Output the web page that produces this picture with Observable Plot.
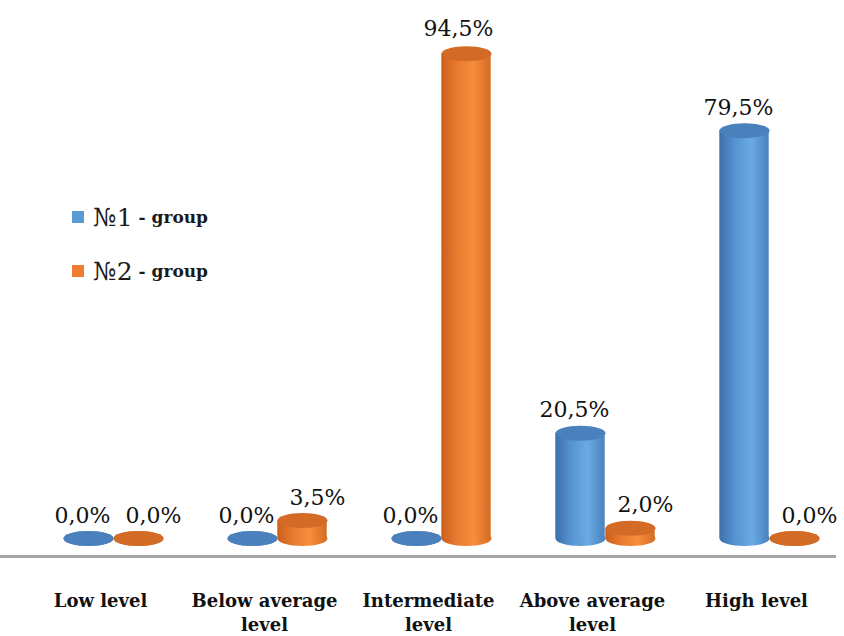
<!DOCTYPE html>
<html>
<head>
<meta charset="utf-8">
<script src="https://cdn.jsdelivr.net/npm/d3@7"></script>
<script src="https://cdn.jsdelivr.net/npm/@observablehq/plot@0.6"></script>
<style>
  html, body { margin: 0; padding: 0; background: #fff; }
  #wrap { position: relative; width: 844px; height: 636px; overflow: hidden; }
  #legend { position: absolute; left: 72px; top: 199px; font-family: "DejaVu Serif", serif; color: #1a1a1a; }
  .row { display: flex; align-items: center; height: 36px; margin-bottom: 18px; }
  .sw { width: 12px; height: 12px; margin-right: 9px; }
  .num { font-size: 25px; margin-right: 6px; }
  .suf { font-size: 17px; font-weight: bold; }
</style>
</head>
<body>
<div id="wrap"></div>
<script>
const categories = ["Low level", "Below average\nlevel", "Intermediate\nlevel", "Above average\nlevel", "High level"];
const seriesNames = ["№1 - group", "№2 - group"];
const group1 = [0.0, 0.0, 0.0, 20.5, 79.5];
const group2 = [0.0, 3.5, 94.5, 2.0, 0.0];
const seriesColors = ["#5b9bd5", "#ed7d31"];

const seriesValues = [group1, group2];
const fmt = v => d3.format(".1f")(v).replace(".", ",") + "%";

// ellipse symbol for cylinder tops/bottoms
const K = 0.5522847498;
const ellipse = {
  draw(ctx, size) {
    const rx = Math.sqrt(size / Math.PI), ry = rx * 0.3;
    ctx.moveTo(-rx, 0);
    ctx.bezierCurveTo(-rx, -ry * K, -rx * K, -ry, 0, -ry);
    ctx.bezierCurveTo(rx * K, -ry, rx, -ry * K, rx, 0);
    ctx.bezierCurveTo(rx, ry * K, rx * K, ry, 0, ry);
    ctx.bezierCurveTo(-rx * K, ry, -rx, ry * K, -rx, 0);
    ctx.closePath();
  }
};

const grads = [
  {body: ["#3d6fa8", "#5592d0", "#6aaae3", "#4a82be"], top: "#4a80bc"},
  {body: ["#c95f1c", "#e87a30", "#f88d3c", "#d26b24"], top: "#d36a25"}
];

const rows = seriesNames.map((s, si) => categories.map((c, i) => ({category: c, series: s, value: seriesValues[si][i]})));

const halfW = 25;
const serifFont = "DejaVu Serif, serif";
const marks = [];
rows.forEach((data, si) => {
  const off = si === 0 ? -halfW : halfW;
  marks.push(
    Plot.dot(data, {x: "category", y: () => 0, r: halfW, symbol: ellipse, fill: `url(#body${si})`, dx: off}),
    Plot.barY(data, {x: "category", y: "value", fill: `url(#body${si})`, dx: off, insetLeft: 57.3, insetRight: 57.3}),
    Plot.dot(data, {x: "category", y: "value", r: halfW, symbol: ellipse, fill: grads[si].top, dx: off})
  );
});
// value labels
marks.push(
  Plot.text(rows[0], {x: "category", y: "value", text: d => fmt(d.value), dx: -31, dy: -23, fontSize: 22, fontFamily: serifFont, fill: "#111"}),
  Plot.text(rows[1].filter(d => d.value <= 50), {x: "category", y: "value", text: d => fmt(d.value), dx: 40, dy: -23, fontSize: 22, fontFamily: serifFont, fill: "#111"}),
  Plot.text(rows[1].filter(d => d.value > 50), {x: "category", y: "value", text: d => fmt(d.value), dx: 17, dy: -25, fontSize: 22, fontFamily: serifFont, fill: "#111"}),
  Plot.ruleY([0], {dy: 18, stroke: "#a6a6a6", strokeWidth: 3}),
  Plot.axisX({tickSize: 0, tickPadding: 33, fontSize: 18, fontWeight: "bold", fontFamily: serifFont, lineHeight: 1.35, dx: -13, fill: "#111", label: null})
);

const svg = Plot.plot({
  width: 844,
  height: 636,
  marginLeft: 0,
  marginRight: 8,
  marginTop: 0,
  marginBottom: 80,
  x: {type: "band", domain: categories, range: [29, 852], padding: 0, label: null},
  y: {domain: [0, 100], range: [538, 25], axis: null},
  marks
});

const defs = d3.select(svg).insert("defs", ":first-child");
grads.forEach((g, si) => {
  const lg = defs.append("linearGradient").attr("id", `body${si}`).attr("x1", 0).attr("x2", 1).attr("y1", 0).attr("y2", 0);
  [0, 0.3, 0.65, 1].forEach((o, j) => lg.append("stop").attr("offset", o).attr("stop-color", g.body[j]));
});

const wrap = document.getElementById("wrap");
wrap.appendChild(svg);

const legend = document.createElement("div");
legend.id = "legend";
seriesNames.forEach((name, i) => {
  const [num, ...rest] = name.split(" ");
  const row = document.createElement("div");
  row.className = "row";
  row.innerHTML = `<div class="sw" style="background:${seriesColors[i]}"></div><span class="num">${num}</span><span class="suf">${rest.join(" ")}</span>`;
  legend.appendChild(row);
});
wrap.appendChild(legend);
</script>
</body>
</html>
